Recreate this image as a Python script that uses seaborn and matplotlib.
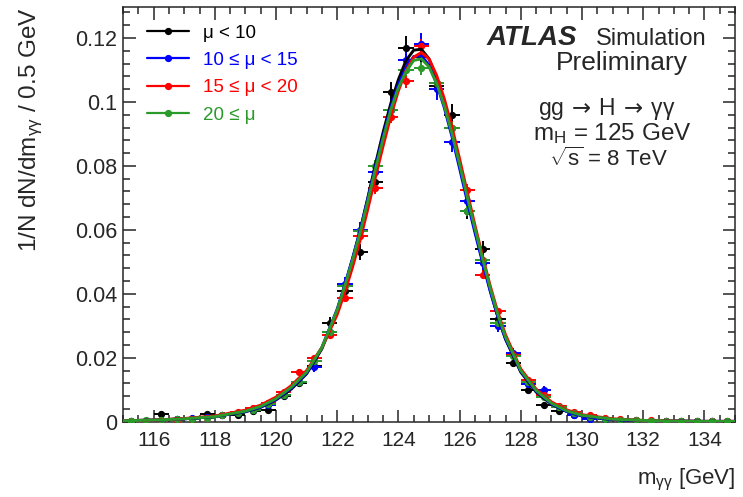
import numpy as np
import pandas as pd
import matplotlib
matplotlib.use("Agg")
import matplotlib.pyplot as plt
from matplotlib.lines import Line2D
from matplotlib.ticker import MultipleLocator, FuncFormatter
import seaborn as sns

# ---------------- data ----------------
bin_centers = [115.25, 115.75, 116.25, 116.75, 117.25, 117.75, 118.25, 118.75, 119.25, 119.75,
               120.25, 120.75, 121.25, 121.75, 122.25, 122.75, 123.25, 123.75, 124.25, 124.75,
               125.25, 125.75, 126.25, 126.75, 127.25, 127.75, 128.25, 128.75, 129.25, 129.75,
               130.25, 130.75, 131.25, 131.75, 132.25, 132.75, 133.25, 133.75, 134.25, 134.75]

pts_mu_lt10 = [0.0002, 0.0003, 0.0025, 0.0010, 0.0008, 0.0025, 0.0022, 0.0022, 0.0035, 0.0038,
               0.0080, 0.0120, 0.0175, 0.0310, 0.0410, 0.0530, 0.0750, 0.1030, 0.1170, 0.1140,
               0.1050, 0.0960, 0.0660, 0.0540, 0.0320, 0.0185, 0.0100, 0.0053, 0.0035, 0.0022,
               0.0012, 0.0008, 0.0005, 0.0003, 0.0002, 0.0001, 0.0002, 0.0001, 0.0001, 0.0000]
pts_mu_10_15 = [0.0003, 0.0003, 0.0006, 0.0009, 0.0012, 0.0014, 0.0021, 0.0026, 0.0036, 0.0052,
                0.0082, 0.0125, 0.0170, 0.0282, 0.0432, 0.0600, 0.0780, 0.0975, 0.1130, 0.1180,
                0.1040, 0.0876, 0.0690, 0.0495, 0.0300, 0.0215, 0.0118, 0.0100, 0.0045, 0.0020,
                0.0010, 0.0008, 0.0006, 0.0005, 0.0003, 0.0003, 0.0002, 0.0002, 0.0001, 0.0001]
pts_mu_15_20 = [0.0002, 0.0003, 0.0004, 0.0006, 0.0008, 0.0013, 0.0020, 0.0030, 0.0042, 0.0060,
                0.0092, 0.0157, 0.0200, 0.0270, 0.0388, 0.0580, 0.0730, 0.0954, 0.1065, 0.1175,
                0.1060, 0.0920, 0.0725, 0.0460, 0.0345, 0.0210, 0.0130, 0.0085, 0.0050, 0.0030,
                0.0020, 0.0012, 0.0008, 0.0005, 0.0004, 0.0003, 0.0002, 0.0002, 0.0001, 0.0001]
pts_mu_ge20 = [0.0003, 0.0004, 0.0005, 0.0007, 0.0009, 0.0013, 0.0020, 0.0028, 0.0038, 0.0055,
               0.0085, 0.0125, 0.0190, 0.0280, 0.0425, 0.0595, 0.0800, 0.0975, 0.1100, 0.1105,
               0.1060, 0.0920, 0.0660, 0.0506, 0.0310, 0.0204, 0.0125, 0.0078, 0.0045, 0.0026,
               0.0016, 0.0010, 0.0006, 0.0004, 0.0003, 0.0002, 0.0002, 0.0001, 0.0001, 0.0001]

fit_x = [115, 116, 117, 118, 119, 119.5, 120, 120.5, 121, 121.5, 122, 122.25, 122.5, 122.75,
         123, 123.25, 123.5, 123.75, 124, 124.25, 124.5, 124.75, 125, 125.25, 125.5, 125.75,
         126, 126.25, 126.5, 126.75, 127, 127.25, 127.5, 128, 128.5, 129, 129.5, 130, 131,
         132, 133, 134, 135]
fit_mu_lt10 = [0.0003, 0.0005, 0.0009, 0.0016, 0.0031, 0.0045, 0.0068, 0.0102, 0.0150, 0.0228,
               0.0348, 0.0425, 0.0508, 0.0598, 0.0700, 0.0805, 0.0905, 0.0995, 0.1070, 0.1130,
               0.1162, 0.1165, 0.1135, 0.1075, 0.0995, 0.0905, 0.0805, 0.0700, 0.0600, 0.0505,
               0.0412, 0.0328, 0.0258, 0.0155, 0.0093, 0.0055, 0.0032, 0.0018, 0.0007, 0.0003,
               0.0002, 0.0001, 0.0001]
fit_mu_10_15 = [0.0003, 0.0005, 0.0009, 0.0016, 0.0032, 0.0046, 0.0070, 0.0105, 0.0152, 0.0232,
                0.0352, 0.0428, 0.0510, 0.0598, 0.0697, 0.0797, 0.0893, 0.0983, 0.1055, 0.1108,
                0.1142, 0.1145, 0.1115, 0.1057, 0.0982, 0.0892, 0.0792, 0.0690, 0.0592, 0.0498,
                0.0408, 0.0328, 0.0260, 0.0158, 0.0096, 0.0056, 0.0032, 0.0018, 0.0007, 0.0003,
                0.0002, 0.0001, 0.0001]
fit_mu_15_20 = [0.0003, 0.0005, 0.0010, 0.0018, 0.0036, 0.0052, 0.0077, 0.0113, 0.0160, 0.0232,
                0.0335, 0.0405, 0.0483, 0.0568, 0.0665, 0.0765, 0.0862, 0.0955, 0.1035, 0.1098,
                0.1140, 0.1155, 0.1135, 0.1083, 0.1010, 0.0922, 0.0822, 0.0718, 0.0615, 0.0518,
                0.0425, 0.0342, 0.0272, 0.0165, 0.0102, 0.0062, 0.0037, 0.0022, 0.0009, 0.0004,
                0.0002, 0.0001, 0.0001]
fit_mu_ge20 = [0.0003, 0.0005, 0.0009, 0.0016, 0.0033, 0.0048, 0.0072, 0.0108, 0.0155, 0.0232,
               0.0350, 0.0425, 0.0505, 0.0592, 0.0690, 0.0790, 0.0885, 0.0975, 0.1045, 0.1095,
               0.1130, 0.1135, 0.1110, 0.1058, 0.0988, 0.0902, 0.0805, 0.0703, 0.0605, 0.0510,
               0.0418, 0.0335, 0.0265, 0.0160, 0.0098, 0.0058, 0.0034, 0.0020, 0.0008, 0.0004,
               0.0002, 0.0001, 0.0001]

labels = ["\u03bc < 10", "10 \u2264 \u03bc < 15", "15 \u2264 \u03bc < 20", "20 \u2264 \u03bc"]
colors = ["#000000", "#0000ff", "#ff0000", "#2a9a2a"]
peak_err = [0.0036, 0.0036, 0.0022, 0.0020]   # vertical error half-size at the peak

# ---------------- style ----------------
sns.set_style("ticks")
plt.rcParams["font.family"] = ["Liberation Sans", "DejaVu Sans"]
plt.rcParams["mathtext.fontset"] = "custom"
plt.rcParams["mathtext.rm"] = "Liberation Sans"
plt.rcParams["mathtext.it"] = "Liberation Sans:italic"
plt.rcParams["mathtext.bf"] = "Liberation Sans:bold"

fig = plt.figure(figsize=(7.43, 4.97), dpi=100)
ax = fig.add_axes([123 / 743, 1 - 421.7 / 497, (735 - 123) / 743, (421.7 - 7) / 497])

series_pts = [pts_mu_lt10, pts_mu_10_15, pts_mu_15_20, pts_mu_ge20]
series_fit = [fit_mu_lt10, fit_mu_10_15, fit_mu_15_20, fit_mu_ge20]

for lab, col, pts, fit, pe in zip(labels, colors, series_pts, series_fit, peak_err):
    y = np.array(pts)
    yerr = pe * np.sqrt(np.clip(y, 0, None) / y.max())
    ax.errorbar(bin_centers, pts, xerr=0.25, yerr=yerr, fmt="o", color=col,
                markersize=4.2, elinewidth=1.4, capsize=0, zorder=3)
    df = pd.DataFrame({"x": fit_x, "y": fit})
    sns.lineplot(data=df, x="x", y="y", color=col, linewidth=2.1, ax=ax, zorder=4)

ax.set_xlim(115, 135)
ax.set_ylim(0, 0.1297)

ax.xaxis.set_major_locator(MultipleLocator(2))
ax.xaxis.set_minor_locator(MultipleLocator(0.5))
ax.yaxis.set_major_locator(MultipleLocator(0.02))
ax.yaxis.set_minor_locator(MultipleLocator(0.004))
ax.yaxis.set_major_formatter(FuncFormatter(lambda v, p: "%g" % round(v, 4)))
ax.xaxis.set_major_formatter(FuncFormatter(lambda v, p: "%g" % v))

ax.tick_params(which="both", direction="in", top=True, right=True, width=1.1, labelsize=15)
ax.tick_params(axis="y", labelsize=15.5)
ax.tick_params(which="major", length=9)
ax.tick_params(which="minor", length=5)
ax.tick_params(axis="x", which="major", pad=7)
ax.tick_params(axis="y", which="major", pad=4)
for s in ax.spines.values():
    s.set_linewidth(1.1)
    s.set_visible(True)

ax.set_xlabel("m$_{\\mathregular{\u03b3\u03b3}}$ [GeV]", fontsize=16, loc="right")
ax.xaxis.set_label_coords(1.0, -0.108)
ax.set_ylabel("1/N dN/dm$_{\\mathregular{\u03b3\u03b3}}$ / 0.5 GeV", fontsize=17.5, loc="top")
ax.yaxis.set_label_coords(-0.127, 1.0)

handles = [Line2D([], [], color=c, marker="o", markersize=4.2, linewidth=1.6) for c in colors]
leg = ax.legend(handles, labels, loc="upper left", bbox_to_anchor=(0.04, 0.958),
                frameon=False, fontsize=13.5, handlelength=2.2, handletextpad=0.75,
                labelspacing=0.55, borderpad=0, borderaxespad=0, labelcolor=colors)

def ftext(x, y, s, **kw):
    fig.text(x / 743, 1 - y / 497, s, **kw)

ftext(487, 45, "ATLAS", fontsize=20, fontweight="bold", fontstyle="italic", ha="left", va="baseline")
ftext(707, 45, "Simulation", fontsize=17, ha="right", va="baseline")
ftext(622, 70, "Preliminary", fontsize=19, ha="center", va="baseline")
ftext(607, 115, "gg$\\,\\rightarrow\\,$H$\\,\\rightarrow\\,$\u03b3\u03b3", fontsize=16.5, ha="center",
      va="baseline", math_fontfamily="dejavusans")
ftext(612, 140, "m$_{\\mathregular{H}}$ = 125 GeV", fontsize=17.5, ha="center", va="baseline")
ftext(608, 166, "$\\sqrt{\\mathregular{s}}$ = 8 TeV", fontsize=16, ha="center", va="baseline")

fig.savefig("out.png", dpi=100)
